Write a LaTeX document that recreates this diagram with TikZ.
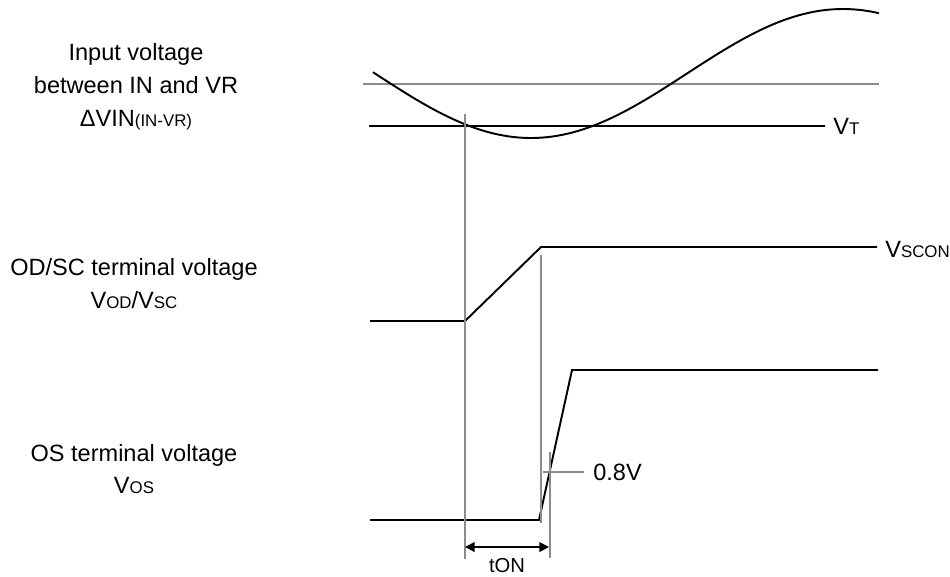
\documentclass[tikz,border=0pt]{standalone}
\usepackage{fontspec}
\setmainfont{Liberation Sans}
\usetikzlibrary{arrows.meta, positioning, calc}

% small capitals used in the signal names
\newcommand{\smc}[1]{{\fontsize{9.6}{12}\selectfont #1}}

\tikzset{
  wave/.style={line width=1.1pt, black, line join=miter},
  guide/.style={line width=0.6pt, black!45},
  lbl/.style={font=\fontsize{13.4}{18.7}\selectfont, inner sep=0pt, align=center},
  dim/.style={line width=1.1pt, {Triangle[length=5.5pt,width=5.5pt]}-{Triangle[length=5.5pt,width=5.5pt]}}
}

\begin{document}
\begin{tikzpicture}[x=0.02cm, y=-0.02cm]
\useasboundingbox (0,0) rectangle (950,576);

% signal names on the left
\node[lbl] (inname) at (136,87) {Input voltage\\between IN and VR\\ΔVIN\smc{(IN-VR)}};
\node[lbl] (odname) at (134,284) {OD/SC terminal voltage\\V\smc{OD}/V\smc{SC}};
\node[lbl] (osname) at (134,469) {OS terminal voltage\\V\smc{OS}};

% input voltage and threshold
\coordinate (ref0) at (363,84);
\coordinate (ref1) at (879,84);
\draw[guide] (ref0) -- (ref1);
\draw[wave] plot[domain=373:879, samples=120] (\x, {73.5+64.5*cos((\x-531)/312*180)});
\node[lbl, anchor=west] (vt) at (833,126) {V\smc{T}};
\coordinate (vt0) at (369,126);
\draw[wave] (vt0) -- ($(vt.west)+(-8,0)$);

% OD/SC waveform
\node[lbl, anchor=west] (vscon) at (885,249) {V\smc{SCON}};
\coordinate (od0) at (370,321);
\coordinate (od1) at (465,321);
\coordinate (od2) at (541,247);
\draw[wave] (od0) -- (od1) -- (od2) -- ($(vscon.west)+(-8,-2)$);

% OS waveform
\coordinate (os0) at (370,520);
\coordinate (os1) at (539,520);
\coordinate (os2) at (572,370);
\coordinate (os3) at (878,370);
\draw[wave] (os0) -- (os1) -- (os2) -- (os3);

% timing guides
\coordinate (t0top) at (465,114);
\coordinate (t0bot) at (465,559);
\coordinate (t1top) at (541,255);
\coordinate (t1bot) at (541,523);
\coordinate (t2top) at (550,452);
\coordinate (t2bot) at (550,558);
\draw[guide] (t0top) -- (t0bot);
\draw[guide] (t1top) -- (t1bot);
\draw[guide] (t2top) -- (t2bot);

\node[lbl, anchor=west] (lvl) at (593,472) {0.8V};
\coordinate (lvl0) at (543,472);
\draw[guide] (lvl0) -- ($(lvl.west)+(-9,0)$);

% turn-on time
\coordinate (ton0) at (465,547);
\coordinate (ton1) at (549,547);
\draw[dim] (ton0) -- (ton1);
\node[font=\fontsize{11.5}{13}\selectfont, inner sep=0pt] (ton) at (507,566) {tON};
\end{tikzpicture}
\end{document}
